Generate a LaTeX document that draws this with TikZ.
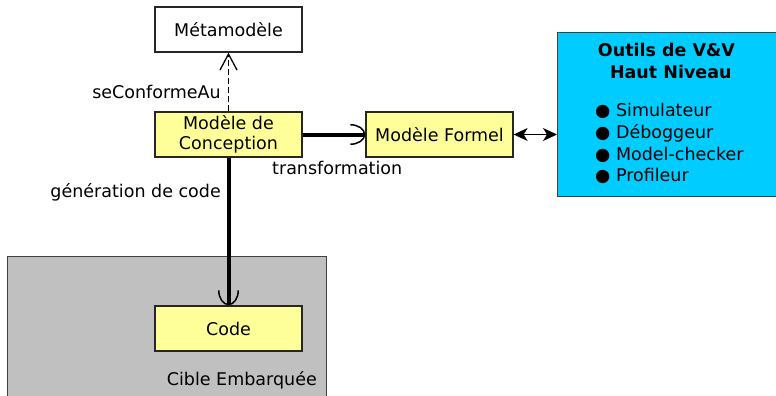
\documentclass[tikz,border=0pt]{standalone}
\usepackage{fontspec}
\setmainfont{DejaVu Sans}
\usetikzlibrary{arrows.meta}
\definecolor{boxyellow}{HTML}{FFFF99}
\definecolor{vvcyan}{HTML}{00CCFF}
\definecolor{cibgray}{HTML}{C0C0C0}
\begin{document}
\begin{tikzpicture}[x=1pt,y=-1pt,
  font=\fontsize{17.5}{20}\selectfont,
  box/.style={draw=black!85, line width=1.3pt, fill=boxyellow,
    minimum width=147pt, minimum height=45pt, inner sep=0pt, align=center},
  zone/.style={draw=black!75, line width=1.3pt, inner sep=0pt, anchor=north west},
  lbl/.style={inner sep=0pt},
  thickarrow/.style={line width=4pt, -{Arc Barb[length=15pt,width=21pt,line width=1.5pt]}},
  vvtip/.style={}
]
\useasboundingbox (0,0) rectangle (776,396);
% containers
\node[zone, fill=cibgray, minimum width=319pt, minimum height=150pt] (cible) at (7,256) {};
\node[zone, fill=vvcyan, minimum width=222pt, minimum height=164pt] (outils) at (557,32) {};
% boxes
\node[box, fill=white] (meta) at (228.5,29.5) {Métamodèle};
\node[box] (conc) at (228.5,134.5) {Modèle de\\Conception};
\node[box] (formel) at (439.5,134.5) {Modèle Formel};
\node[box] (code) at (228.5,328.5) {Code};
% connectors
\draw[line width=1.3pt, dash pattern=on 6pt off 3pt,
  -{Straight Barb[length=16pt,width=17pt,line width=1.3pt]}] (conc.north) -- (meta.south);
\draw[thickarrow] (conc.east) -- (formel.west);
\draw[thickarrow] (conc.south) -- (code.north);
\draw[line width=1.3pt, {Stealth[length=14pt,width=13pt,inset=4pt]}-{Stealth[length=14pt,width=13pt,inset=4pt]}]
  (formel.east) -- (formel.east -| outils.west);
% labels
\node[lbl, anchor=base east] (conf) at (221,98) {seConformeAu};
\node[lbl, anchor=base east] (gen) at (221,197) {génération de code};
\node[lbl, anchor=base west] (trans) at (272,174) {transformation};
\node[lbl, anchor=base east] (ciblelbl) at (317,385) {Cible Embarquée};
% tools box content
\node[lbl, anchor=base, font=\fontsize{17.5}{20}\selectfont\bfseries] (t1) at (666.5,56.7) {Outils de V\&V};
\node[lbl, anchor=base, font=\fontsize{17.5}{20}\selectfont\bfseries] (t2) at (670.8,78.3) {Haut Niveau};
\node[lbl, anchor=base west] (i1) at (595,116.7) {● Simulateur};
\node[lbl, anchor=base west] (i2) at (595,138.3) {● Déboggeur};
\node[lbl, anchor=base west] (i3) at (595,160) {● Model-checker};
\node[lbl, anchor=base west] (i4) at (595,181.7) {● Profileur};
\end{tikzpicture}
\end{document}
